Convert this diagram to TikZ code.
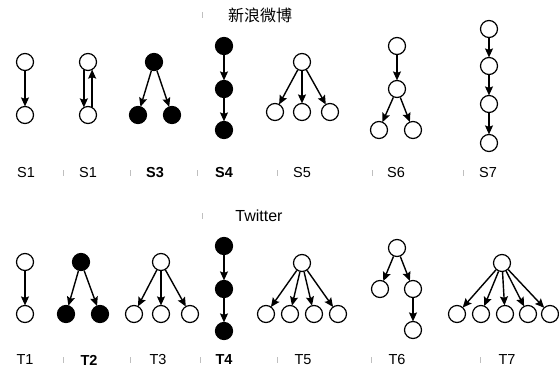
\documentclass[tikz,border=0pt]{standalone}
\usepackage{fontspec}
\setmainfont{Liberation Sans}
\newfontfamily\cjkfont{Noto Sans CJK SC}
\usetikzlibrary{arrows.meta}
\begin{document}
\begin{tikzpicture}[x=1pt,y=-1pt,
  wnode/.style={circle,draw,line width=1.2pt,fill=white,minimum size=17pt,inner sep=0pt},
  bnode/.style={wnode,fill=black},
  arr/.style={-{Stealth[length=9pt,width=8pt,inset=1.5pt]},line width=1.4pt,shorten >=-0.5pt},
  lbl/.style={font=\fontsize{14.5}{16}\selectfont},
  blbl/.style={font=\fontsize{14.5}{16}\selectfont\bfseries},
  title/.style={font=\fontsize{16}{18}\selectfont},
  tick/.style={black!25,line width=0.7pt}]
\useasboundingbox (0,0) rectangle (559,369);

% section titles
\node[title] (tw) at (260,15) {\cjkfont 新浪微博};
\node[title] (tt) at (259,216) {Twitter};

% faint separator marks
\foreach \x/\y in {202/15, 202/216,
                   63/173, 130/173, 197/173, 277/173, 372/173, 463/173,
                   63/360, 130/360, 200/360, 277/360, 371/360, 480/360}
  \draw[tick] (\x,\y-3) -- (\x,\y+3);

% ---------- Weibo patterns ----------
\node[wnode] (s1a) at (25,62) {};
\node[wnode] (s1b) at (25,115) {};
\draw[arr] (s1a) -- (s1b);

\node[wnode] (s2a) at (88,62) {};
\node[wnode] (s2b) at (88,115) {};
\draw[arr] (s2a.-117) -- (s2b.117);
\draw[arr] (s2b.63) -- (s2a.-63);

\node[bnode] (s3a) at (154,62) {};
\node[bnode] (s3b) at (138,115) {};
\node[bnode] (s3c) at (172,115) {};
\draw[arr] (s3a) -- (s3b);
\draw[arr] (s3a) -- (s3c);

\node[bnode] (s4a) at (224,46) {};
\node[bnode] (s4b) at (224,89) {};
\node[bnode] (s4c) at (224,130) {};
\draw[arr] (s4a) -- (s4b);
\draw[arr] (s4b) -- (s4c);

\node[wnode] (s5a) at (302,62) {};
\node[wnode] (s5b) at (275,112) {};
\node[wnode] (s5c) at (302,112) {};
\node[wnode] (s5d) at (330,112) {};
\foreach \c in {s5b,s5c,s5d} \draw[arr] (s5a) -- (\c);

\node[wnode] (s6a) at (397,46) {};
\node[wnode] (s6b) at (397,89) {};
\node[wnode] (s6c) at (379,130) {};
\node[wnode] (s6d) at (413,130) {};
\draw[arr] (s6a) -- (s6b);
\draw[arr] (s6b) -- (s6c);
\draw[arr] (s6b) -- (s6d);

\node[wnode] (s7a) at (489,29) {};
\node[wnode] (s7b) at (489,66) {};
\node[wnode] (s7c) at (489,104) {};
\node[wnode] (s7d) at (489,143) {};
\draw[arr] (s7a) -- (s7b);
\draw[arr] (s7b) -- (s7c);
\draw[arr] (s7c) -- (s7d);

\node[lbl]  (ls1) at (26,173) {S1};
\node[lbl]  (ls2) at (88,173) {S1};
\node[blbl] (ls3) at (155,173) {S3};
\node[blbl] (ls4) at (224,173) {S4};
\node[lbl]  (ls5) at (302,173) {S5};
\node[lbl]  (ls6) at (396,173) {S6};
\node[lbl]  (ls7) at (488,173) {S7};

% ---------- Twitter patterns ----------
\node[wnode] (t1a) at (25,262) {};
\node[wnode] (t1b) at (25,314) {};
\draw[arr] (t1a) -- (t1b);

\node[bnode] (t2a) at (81,262) {};
\node[bnode] (t2b) at (66,314) {};
\node[bnode] (t2c) at (100,314) {};
\draw[arr] (t2a) -- (t2b);
\draw[arr] (t2a) -- (t2c);

\node[wnode] (t3a) at (161,262) {};
\node[wnode] (t3b) at (134,314) {};
\node[wnode] (t3c) at (161,314) {};
\node[wnode] (t3d) at (190,314) {};
\foreach \c in {t3b,t3c,t3d} \draw[arr] (t3a) -- (\c);

\node[bnode] (t4a) at (224,246) {};
\node[bnode] (t4b) at (224,289) {};
\node[bnode] (t4c) at (224,331) {};
\draw[arr] (t4a) -- (t4b);
\draw[arr] (t4b) -- (t4c);

\node[wnode] (t5a) at (302,263) {};
\node[wnode] (t5b) at (266,314) {};
\node[wnode] (t5c) at (290,314) {};
\node[wnode] (t5d) at (314,314) {};
\node[wnode] (t5e) at (338,314) {};
\foreach \c in {t5b,t5c,t5d,t5e} \draw[arr] (t5a) -- (\c);

\node[wnode] (t6a) at (397,248) {};
\node[wnode] (t6b) at (380,289) {};
\node[wnode] (t6c) at (413,289) {};
\node[wnode] (t6d) at (413,330) {};
\draw[arr] (t6a) -- (t6b);
\draw[arr] (t6a) -- (t6c);
\draw[arr] (t6c) -- (t6d);

\node[wnode] (t7a) at (502,263) {};
\node[wnode] (t7b) at (457,314) {};
\node[wnode] (t7c) at (481,314) {};
\node[wnode] (t7d) at (505,314) {};
\node[wnode] (t7e) at (528,314) {};
\node[wnode] (t7f) at (550,314) {};
\foreach \c in {t7b,t7c,t7d,t7e,t7f} \draw[arr] (t7a) -- (\c);

\node[lbl]  (lt1) at (25,360) {T1};
\node[blbl] (lt2) at (89,360) {T2};
\node[lbl]  (lt3) at (158,360) {T3};
\node[blbl] (lt4) at (224,360) {T4};
\node[lbl]  (lt5) at (303,360) {T5};
\node[lbl]  (lt6) at (397,360) {T6};
\node[lbl]  (lt7) at (507,360) {T7};
\end{tikzpicture}
\end{document}
